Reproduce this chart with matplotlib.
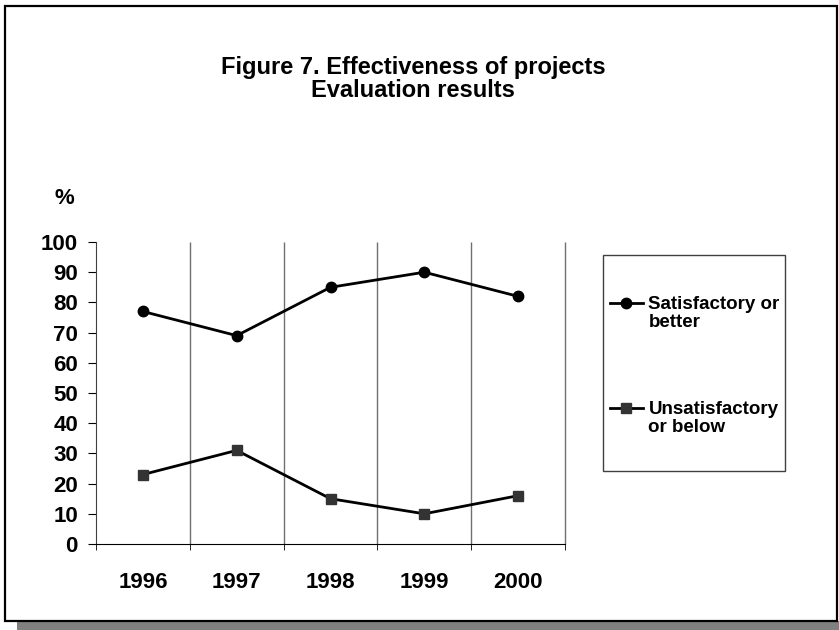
import matplotlib.pyplot as plt
import matplotlib.transforms as mtransforms
from matplotlib.patches import Rectangle
from matplotlib.lines import Line2D
from matplotlib.legend_handler import HandlerLine2D

years = ['1996', '1997', '1998', '1999', '2000']
satisfactory = [77, 69, 85, 90, 82]
unsatisfactory = [23, 31, 15, 10, 16]
yticks = list(range(0, 101, 10))
labels = ['Satisfactory or\nbetter', 'Unsatisfactory\nor below']

plt.rcParams['font.family'] = ['Liberation Sans', 'DejaVu Sans']
plt.rcParams['font.weight'] = 'bold'

W, H = 839, 630
fig = plt.figure(figsize=(W / 100, H / 100), dpi=100)


# put the legend handle on the first text line, not the middle
class FirstLineHandler(HandlerLine2D):
    def create_artists(self, legend, orig_handle, xdescent, ydescent, width, height, fontsize, trans):
        arts = super().create_artists(legend, orig_handle, xdescent, ydescent, width, height, fontsize, trans)
        shift = mtransforms.Affine2D().translate(0, 0.56 * fontsize)
        for a in arts:
            a.set_transform(shift + trans)
        return arts


# outer frame with shadow
fig.patches.append(Rectangle((17 / W, 0), 1 - 17 / W, 9 / H, transform=fig.transFigure,
                             facecolor='#808080', edgecolor='none', zorder=0))
fig.patches.append(Rectangle((5 / W, 1 - 621 / H), 832 / W, 615 / H, transform=fig.transFigure,
                             facecolor='white', edgecolor='black', linewidth=1.6, zorder=1))
# legend box
fig.patches.append(Rectangle((603 / W, 1 - 471 / H), 182 / W, 216 / H, transform=fig.transFigure,
                             facecolor='white', edgecolor='#404040', linewidth=1.0, zorder=1))

ax = fig.add_axes([96 / W, 1 - 544 / H, (565 - 96) / W, (544 - 242) / H])
ax.set_zorder(2)
ax.patch.set_visible(False)
x = list(range(len(years)))

# category separators
bounds = [i + 0.5 for i in range(len(years))]
ax.vlines(bounds, 0, 100, color='#707070', linewidth=1.0, clip_on=False, zorder=1)

l1, = ax.plot(x, satisfactory, color='black', linewidth=2.0, marker='o', markersize=7.5,
              markerfacecolor='black', markeredgecolor='black', zorder=3)
l2, = ax.plot(x, unsatisfactory, color='black', linewidth=2.0, marker='s', markersize=7.5,
              markerfacecolor='#333333', markeredgecolor='#333333', zorder=3)

ax.set_xlim(-0.5, len(years) - 0.5)
ax.set_ylim(0, 100)
ax.set_yticks(yticks)
ax.set_yticklabels([str(v) for v in yticks], fontsize=16, fontweight='bold')
ax.set_xticks(x)
ax.set_xticklabels(years, fontsize=16, fontweight='bold')
ax.tick_params(axis='x', which='major', length=0, pad=20)
ax.set_xticks([-0.5] + bounds, minor=True)
ax.tick_params(axis='x', which='minor', length=4, direction='out', color='black')
ax.tick_params(axis='y', length=6, direction='out', color='black', pad=7)

for s in ['top', 'right']:
    ax.spines[s].set_visible(False)
ax.spines['left'].set_color('#404040')
ax.spines['bottom'].set_color('black')

fig.text(64 / W, 1 - 198 / H, '%', fontsize=16, fontweight='bold', ha='center', va='center')
fig.text(413 / W, 1 - 79 / H, 'Figure 7. Effectiveness of projects\nEvaluation results',
         fontsize=17, fontweight='bold', ha='center', va='center', linespacing=1.0)

leg = fig.legend([l1, l2], labels, loc='center left', bbox_to_anchor=(610 / W, 1 - 366 / H),
                 prop={'weight': 'bold', 'size': 13.5}, frameon=False,
                 handlelength=1.75, handletextpad=0.3, labelspacing=3.75, borderpad=0,
                 borderaxespad=0, handler_map={Line2D: FirstLineHandler()})
for t in leg.get_texts():
    t.set_linespacing(1.1)
leg.set_zorder(3)

fig.savefig('out.png', dpi=100)
